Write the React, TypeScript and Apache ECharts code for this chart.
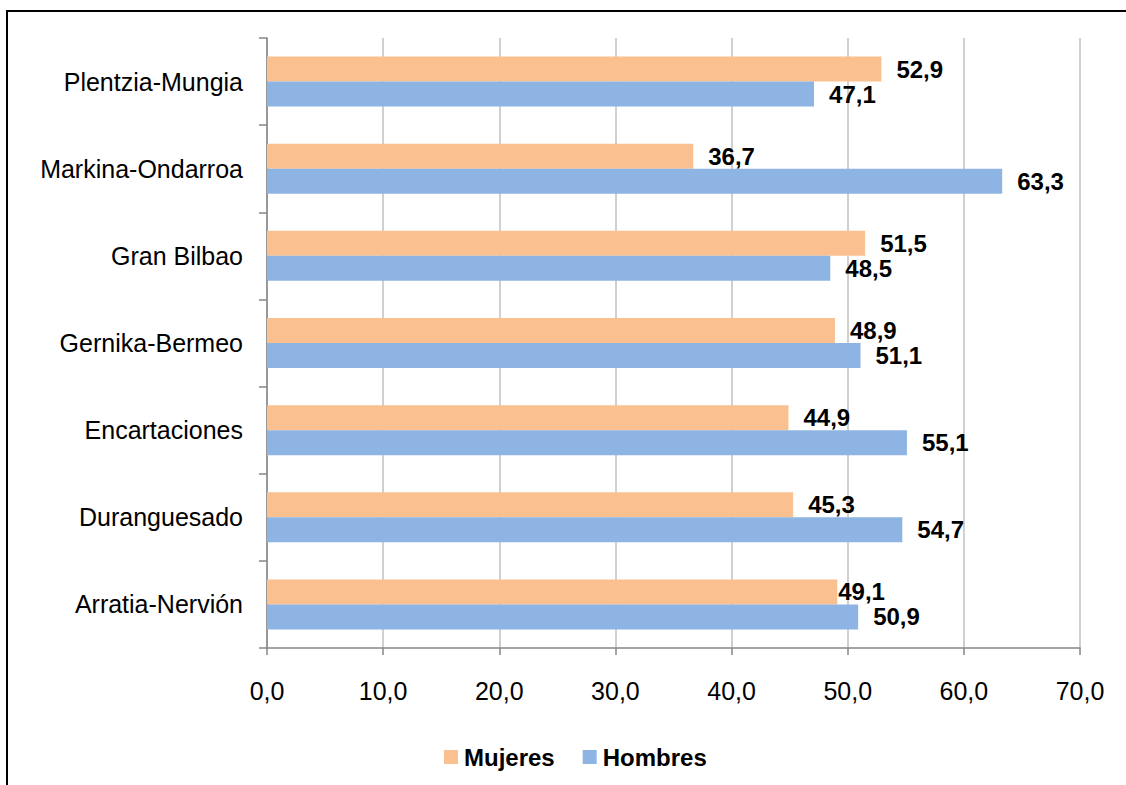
import React, { useEffect, useRef } from "react";
import * as echarts from "echarts";

const categories = [
  "Arratia-Nervión",
  "Duranguesado",
  "Encartaciones",
  "Gernika-Bermeo",
  "Gran Bilbao",
  "Markina-Ondarroa",
  "Plentzia-Mungia",
];
const mujeres = [49.1, 45.3, 44.9, 48.9, 51.5, 36.7, 52.9];
const hombres = [50.9, 54.7, 55.1, 51.1, 48.5, 63.3, 47.1];
const xTicks = { min: 0, max: 70, interval: 10 };

const FONT = "'Liberation Sans', Arial, sans-serif";
const fmt = (v: number) => v.toFixed(1).replace(".", ",");

export default function App() {
  const ref = useRef<HTMLDivElement>(null);
  useEffect(() => {
    if (!ref.current) return;
    const chart = echarts.init(ref.current, null, { renderer: "svg" });
    const labelBase = {
      show: true,
      position: "right",
      distance: 15,
      color: "#000",
      fontFamily: FONT,
      fontSize: 24,
      fontWeight: "bold",
      formatter: (p: any) => fmt(p.value),
    };
    chart.setOption({
      animation: false,
      backgroundColor: "#fff",
      grid: { left: 267, right: 46, top: 38, bottom: 137, containLabel: false },
      legend: {
        data: ["Mujeres", "Hombres"],
        left: 439,
        top: 740,
        icon: "rect",
        itemWidth: 14,
        itemHeight: 14,
        itemGap: 28,
        textStyle: { fontFamily: FONT, fontSize: 24, fontWeight: "bold", color: "#000", padding: [0, 0, 0, 1] },
      },
      xAxis: {
        type: "value",
        min: xTicks.min,
        max: xTicks.max,
        interval: xTicks.interval,
        axisLine: { show: true, lineStyle: { color: "#868686", width: 1.5 } },
        axisTick: { show: true, length: 7, lineStyle: { color: "#868686", width: 1.5 } },
        splitLine: { show: true, lineStyle: { color: "#c0c0c0", width: 1.5 } },
        axisLabel: {
          margin: 30,
          color: "#000",
          fontFamily: FONT,
          fontSize: 25,
          formatter: (v: number) => fmt(v),
        },
      },
      yAxis: {
        type: "category",
        data: categories,
        axisLine: { show: true, lineStyle: { color: "#868686", width: 1.5 } },
        axisTick: { show: true, length: 8, lineStyle: { color: "#868686", width: 1.5 } },
        axisLabel: { margin: 24, color: "#000", fontFamily: FONT, fontSize: 25 },
      },
      series: [
        {
          name: "Mujeres",
          type: "bar",
          data: mujeres.map((v, i) =>
            i === 0 ? { value: v, label: { distance: 1 } } : v
          ),
          barWidth: 25,
          barGap: "0%",
          itemStyle: { color: "#FAC090" },
          label: labelBase,
        },
        {
          name: "Hombres",
          type: "bar",
          data: hombres,
          barWidth: 25,
          barGap: "0%",
          itemStyle: { color: "#8EB4E3" },
          label: labelBase,
        },
      ],
      graphic: [
        {
          type: "rect",
          shape: { x: 7, y: 11, width: 1300, height: 900 },
          style: { fill: "none", stroke: "#000", lineWidth: 2 },
          silent: true,
        },
      ],
    });
    return () => chart.dispose();
  }, []);
  return (
    <div
      ref={ref}
      style={{ position: "absolute", left: 0, top: 0, width: 1126, height: 785 }}
    />
  );
}
